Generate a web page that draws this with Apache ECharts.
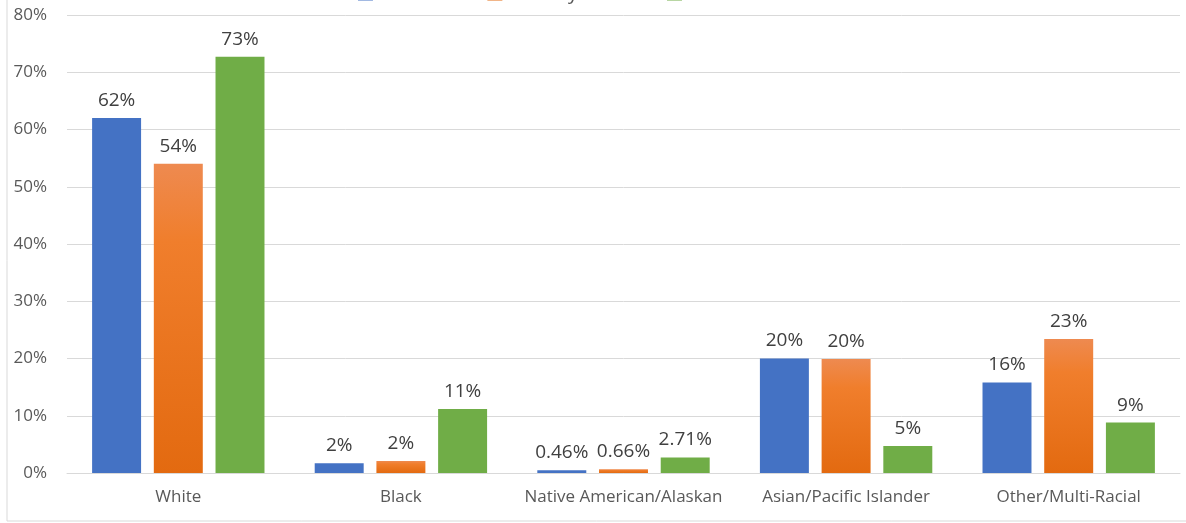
<!DOCTYPE html>
<html><head><meta charset="utf-8">
<script src="https://cdn.jsdelivr.net/npm/echarts@6/dist/echarts.min.js"></script>
<style>html,body{margin:0;padding:0;background:#fff}#c{width:1186px;height:523px}</style>
</head><body><div id="c"></div>
<script>
const categories = ['White', 'Black', 'Native American/Alaskan', 'Asian/Pacific Islander', 'Other/Multi-Racial'];
const seriesNames = ['Census', 'Poverty Rate', '2019 PIT Count'];
const census = [62, 1.7, 0.46, 20, 15.8];
const poverty = [54, 2.1, 0.66, 19.9, 23.4];
const pit = [72.7, 11.2, 2.71, 4.7, 8.8];
const censusLabels = ['62%', '2%', '0.46%', '20%', '16%'];
const povertyLabels = ['54%', '2%', '0.66%', '20%', '23%'];
const pitLabels = ['73%', '11%', '2.71%', '5%', '9%'];
const yTicks = ['0%','10%','20%','30%','40%','50%','60%','70%','80%'];

const font = "'Open Sans', 'Noto Sans', sans-serif";
const textColor = '#595959';
const chart = echarts.init(document.getElementById('c'));
function mk(name, data, labels, color) {
  return {
    name, type: 'bar', data, barWidth: '22%', barGap: '26%',
    itemStyle: { color },
    label: { show: true, position: 'top', distance: 8, fontFamily: font, fontSize: 19, color: '#404040',
      formatter: p => labels[p.dataIndex] }
  };
}
chart.setOption({
  animation: false,
  legend: { top: -22, left: 'center', itemWidth: 15, itemHeight: 15, itemGap: 42, icon: 'rect',
    textStyle: { fontFamily: font, fontSize: 20, color: textColor }, data: seriesNames },
  grid: { left: 67, right: 6, top: 15, bottom: 50 },
  graphic: [
    { type: 'line', shape: { x1: 7, y1: 0, x2: 7, y2: 521 }, style: { stroke: '#d9d9d9', lineWidth: 1 } },
    { type: 'line', shape: { x1: 7, y1: 521, x2: 1186, y2: 521 }, style: { stroke: '#d9d9d9', lineWidth: 1 } }
  ],
  xAxis: { type: 'category', data: categories,
    axisLine: { lineStyle: { color: '#d9d9d9' } }, axisTick: { show: false },
    axisLabel: { interval: 0, fontFamily: font, fontSize: 17, color: textColor, margin: 16 } },
  yAxis: { type: 'value', min: 0, max: 80, interval: 10,
    axisLabel: { fontFamily: font, fontSize: 17, color: textColor, margin: 20,
      formatter: v => yTicks[Math.round(v / 10)] },
    splitLine: { lineStyle: { color: '#d9d9d9' } } },
  series: [
    mk(seriesNames[0], census, censusLabels, '#4472C4'),
    mk(seriesNames[1], poverty, povertyLabels, new echarts.graphic.LinearGradient(0,0,0,1,[
      {offset:0,color:'#EE8A50'},{offset:0.25,color:'#F07E2C'},{offset:1,color:'#E36A10'}])),
    mk(seriesNames[2], pit, pitLabels, '#70AD47')
  ]
});
</script></body></html>
